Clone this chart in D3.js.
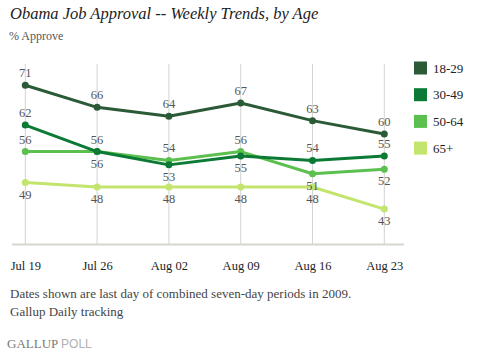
<!DOCTYPE html>
<html>
<head>
<meta charset="utf-8">
<script src="https://cdn.jsdelivr.net/npm/d3@7"></script>
<style>
  body { margin: 0; background: #fff; }
  svg { display: block; }
  text { font-family: "Liberation Serif", serif; }
</style>
</head>
<body>
<div id="chart"></div>
<script>
// Data
const weeks = ["Jul 19", "Jul 26", "Aug 02", "Aug 09", "Aug 16", "Aug 23"];
const ageGroups = ["18-29", "30-49", "50-64", "65+"];
const approve1829 = [71, 66, 64, 67, 63, 60];
const approve3049 = [62, 56, 53, 55, 54, 55];
const approve5064 = [56, 56, 54, 56, 51, 52];
const approve65 = [49, 48, 48, 48, 48, 43];
// which side of the point each value label sits (1 = above, -1 = below)
const labelSide = [
    [1, 1, 1, 1, 1, 1],
    [1, -1, -1, -1, 1, 1],
    [1, 1, 1, 1, -1, -1],
    [-1, -1, -1, -1, -1, -1]
];

const colors = ["#2b5a36", "#0b7a35", "#5cc04e", "#c3e56e"];

const series = ageGroups.map((g, i) => ({
    name: g,
    color: colors[i],
    values: [approve1829, approve3049, approve5064, approve65][i],
    side: labelSide[i]
}));

const W = 481, H = 354;
const svg = d3.select("#chart").append("svg")
    .attr("width", W)
    .attr("height", H);

// Title
svg.append("text")
    .attr("x", 10).attr("y", 19)
    .style("font-style", "italic")
    .style("font-size", "16.5px")
    .style("fill", "#222")
    .text("Obama Job Approval -- Weekly Trends, by Age");

svg.append("text")
    .attr("x", 9).attr("y", 40)
    .style("font-size", "12px")
    .style("fill", "#555")
    .text("% Approve");

const x = d3.scalePoint().domain(weeks).range([25.3, 384.3]);
const y = d3.scaleLinear().domain([35, 75.8]).range([244.5, 64]);

// Gridlines
svg.selectAll(".grid")
    .data(weeks)
    .join("line")
    .attr("class", "grid")
    .attr("x1", d => x(d)).attr("x2", d => x(d))
    .attr("y1", y(75.8)).attr("y2", y(35))
    .style("stroke", "#d3d3d3")
    .style("stroke-width", 1);

// Baseline axis
const gx = svg.append("g")
    .attr("transform", `translate(0,${y(35)})`)
    .call(d3.axisBottom(x).tickSize(0).tickPadding(17))
    .attr("font-family", "Liberation Serif")
    .attr("font-size", 12.5);
gx.select(".domain").remove();
svg.append("line")
    .attr("x1", 12).attr("x2", 404)
    .attr("y1", y(35)).attr("y2", y(35))
    .style("stroke", "#d6d6d0")
    .style("stroke-width", 2);
gx.selectAll("text")
    .attr("font-family", "Liberation Serif")
    .style("font-family", "'Liberation Serif', serif")
    .style("font-size", "12.5px")
    .style("font-weight", "normal")
    .style("fill", "#222");

// Lines
const line = d3.line()
    .x((d, i) => x(weeks[i]))
    .y(d => y(d));

const lineG = svg.append("g");
// draw lowest first so dark lines sit on top
series.slice().reverse().forEach(s => {
    lineG.append("path")
        .datum(s.values)
        .attr("d", line)
        .style("fill", "none")
        .style("stroke", s.color)
        .style("stroke-width", 3)
        .style("stroke-linejoin", "round");
    lineG.selectAll(null)
        .data(s.values)
        .join("circle")
        .attr("cx", (d, i) => x(weeks[i]))
        .attr("cy", d => y(d))
        .attr("r", 3.5)
        .style("fill", s.color);
});

// Value labels
series.forEach(s => {
    svg.selectAll(null)
        .data(s.values)
        .join("text")
        .attr("x", (d, i) => x(weeks[i]))
        .attr("y", (d, i) => s.side[i] > 0 ? y(d) - 8 : y(d) + 16)
        .attr("text-anchor", "middle")
        .style("font-size", "12.5px")
        .style("fill", "#555")
        .text(d => d);
});

// Legend
const legend = svg.append("g").attr("transform", "translate(414,61.5)");
const lg = legend.selectAll("g")
    .data(series)
    .join("g")
    .attr("transform", (d, i) => `translate(0,${i * 26.7})`);
lg.append("rect")
    .attr("width", 13).attr("height", 13)
    .style("fill", d => d.color);
lg.append("text")
    .attr("x", 19).attr("y", 11)
    .style("font-size", "13px")
    .style("fill", "#222")
    .text(d => d.name);

// Notes
svg.append("text")
    .attr("x", 10).attr("y", 298)
    .style("font-size", "13px")
    .style("fill", "#444")
    .text("Dates shown are last day of combined seven-day periods in 2009.");
svg.append("text")
    .attr("x", 10).attr("y", 316)
    .style("font-size", "13px")
    .style("fill", "#444")
    .text("Gallup Daily tracking");

const brand = svg.append("text")
    .attr("x", 7).attr("y", 348)
    .style("font-size", "13px");
brand.append("tspan")
    .style("fill", "#7a7a7a")
    .text("GALLUP ");
brand.append("tspan")
    .style("font-family", "'Liberation Sans', sans-serif")
    .style("font-size", "12px")
    .style("fill", "#b0b0b0")
    .text("POLL");
</script>
</body>
</html>
